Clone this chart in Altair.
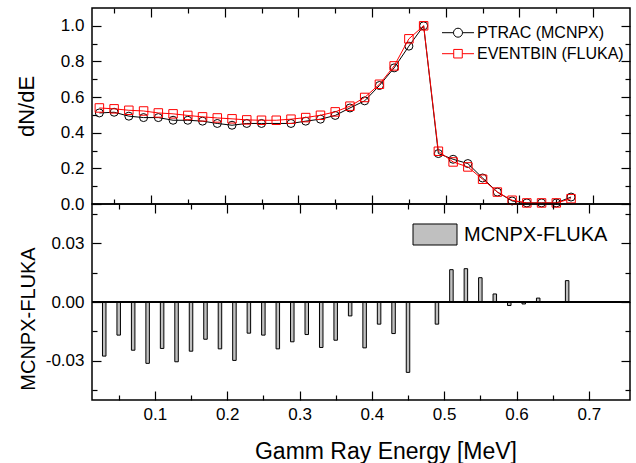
import altair as alt
import pandas as pd

# ---------------- data ----------------
energy = [0.03, 0.05, 0.07, 0.09, 0.11, 0.13, 0.15, 0.17, 0.19, 0.21, 0.23,
          0.25, 0.27, 0.29, 0.31, 0.33, 0.35, 0.37, 0.39, 0.41, 0.43, 0.45,
          0.47, 0.49, 0.51, 0.53, 0.55, 0.57, 0.59, 0.61, 0.63, 0.65, 0.67]
mcnpx = [0.511, 0.515, 0.493, 0.485, 0.485, 0.470, 0.470, 0.465, 0.452, 0.442,
         0.452, 0.452, None, 0.452, 0.465, 0.476, 0.497, 0.539, 0.579, 0.665,
         0.764, 0.886, 1.000, 0.283, 0.251, 0.227, 0.146, 0.067, 0.017, 0.006,
         0.006, 0.006, 0.039]
fluka = [0.539, 0.534, 0.526, 0.522, 0.511, 0.506, 0.497, 0.489, 0.483, 0.478,
         0.472, 0.470, 0.470, 0.476, 0.485, 0.498, 0.517, 0.549, 0.598, 0.672,
         0.775, 0.927, 1.000, 0.296, 0.236, 0.208, 0.139, 0.067, 0.021, 0.006,
         0.006, 0.006, 0.030]
diff = [-0.0276, -0.0169, -0.0246, -0.0313, -0.0237, -0.0305, -0.0251, -0.0190,
        -0.0239, -0.0298, -0.0159, -0.0169, -0.0239, -0.0203, -0.0166, -0.0232,
        -0.0195, -0.0071, -0.0234, -0.0113, -0.0161, -0.0359, 0.0, -0.0113,
        0.0165, 0.0170, 0.0124, 0.0041, -0.0018, -0.0010, 0.0020, 0.0, 0.0109]

series_names = ["PTRAC (MCNPX)", "EVENTBIN (FLUKA)"]
series_colors = ["#000000", "#ff0000"]
diff_name = ["MCNPX-FLUKA"]

x_major = [0.1, 0.2, 0.3, 0.4, 0.5, 0.6, 0.7]
x_minor = [0.05, 0.15, 0.25, 0.35, 0.45, 0.55, 0.65]
top_major = [0.0, 0.2, 0.4, 0.6, 0.8, 1.0]
top_minor = [0.1, 0.3, 0.5, 0.7, 0.9]
bot_major = [-0.03, 0.0, 0.03]
bot_minor = [-0.045, -0.015, 0.015, 0.045]

df = pd.DataFrame({"energy": energy, "mcnpx": mcnpx, "fluka": fluka,
                   "diff": diff, "label": diff_name * len(energy)})

# ---------------- layout / style ----------------
W, H = 538, 196
FONT = "Liberation Sans"
XDOM = [0.02, 0.75]
TOPDOM = [0.0, 1.1]
BOTDOM = [-0.05, 0.05]

xscale = alt.Scale(domain=XDOM, nice=False, zero=False)
top_scale = alt.Scale(domain=TOPDOM, nice=False, zero=False)
bot_scale = alt.Scale(domain=BOTDOM, nice=False, zero=False)


def tick_axis(orient, offset, values, size):
    return alt.Axis(orient=orient, offset=offset, values=values, tickSize=size,
                    ticks=True, labels=False, domain=False, grid=False,
                    title=None, tickColor="black", tickWidth=1.2)


def tick_layers(yfield, yscale, ymaj, ymin):
    specs = [("top", "right", x_major, ymaj, 9),
             ("top", "right", x_minor, ymin, 5),
             ("bottom", "left", x_major, ymaj, 9),
             ("bottom", "left", x_minor, ymin, 5)]
    out = []
    for xo, yo, xv, yv, s in specs:
        out.append(
            alt.Chart(df).mark_point(opacity=0).encode(
                x=alt.X("energy:Q", scale=xscale, axis=tick_axis(xo, -H, xv, s)),
                y=alt.Y(f"{yfield}:Q", scale=yscale, axis=tick_axis(yo, -W, yv, s)),
            )
        )
    return out


# ---------------- top panel ----------------
top_yaxis = alt.Axis(orient="left", values=top_major, format=".1f", ticks=False,
                     domain=False, grid=False, labelPadding=8, labelFontSize=17,
                     labelFont=FONT, labelColor="black", title="dN/dE",
                     titleFont=FONT, titleFontSize=22, titleFontWeight="normal",
                     titleColor="black", titleAngle=270, titleX=-59,
                     titleBaseline="alphabetic", titleAlign="center")

valid_m = "isValid(datum.mcnpx)"
line_m = alt.Chart(df).transform_filter(valid_m).mark_line(
    color="black", strokeWidth=1).encode(
    x=alt.X("energy:Q", scale=xscale, axis=None),
    y=alt.Y("mcnpx:Q", scale=top_scale, axis=top_yaxis))
pts_m = alt.Chart(df).transform_filter(valid_m).mark_point(
    shape="circle", filled=False, size=64, color="black", strokeWidth=1,
    opacity=1).encode(
    x=alt.X("energy:Q", scale=xscale, axis=None),
    y=alt.Y("mcnpx:Q", scale=top_scale, axis=None))
line_f = alt.Chart(df).mark_line(color="#ff0000", strokeWidth=1).encode(
    x=alt.X("energy:Q", scale=xscale, axis=None),
    y=alt.Y("fluka:Q", scale=top_scale, axis=None))
pts_f = alt.Chart(df).mark_point(
    shape="square", filled=False, size=72, color="#ff0000", strokeWidth=1,
    opacity=1).encode(
    x=alt.X("energy:Q", scale=xscale, axis=None),
    y=alt.Y("fluka:Q", scale=top_scale, axis=None))

circ = ("M0.474,0C0.474,0.262,0.262,0.474,0,0.474C-0.262,0.474,-0.474,0.262,"
        "-0.474,0C-0.474,-0.262,-0.262,-0.474,0,-0.474C0.262,-0.474,0.474,"
        "-0.262,0.474,0Z")
legend_paths = ["M-1.684,0H-0.474M0.474,0H1.684" + circ,
                "M-1.684,0H-0.45M0.45,0H1.684M-0.45,-0.45H0.45V0.45H-0.45Z"]

leg_top = alt.Legend(title=None, orient="none", legendX=356, legendY=14.7,
                     symbolSize=361, symbolStrokeWidth=1, labelFontSize=16,
                     labelFont=FONT, labelColor="black", labelOffset=9,
                     rowPadding=3, padding=0)
legend_layer = alt.Chart(df).transform_filter("false").mark_point(
    filled=False, strokeWidth=1, opacity=1).encode(
    color=alt.Color("series:N", scale=alt.Scale(domain=series_names,
                                                range=series_colors),
                    legend=leg_top),
    shape=alt.Shape("series:N", scale=alt.Scale(domain=series_names,
                                                range=legend_paths),
                    legend=leg_top))

top = alt.layer(line_m, pts_m, line_f, pts_f, legend_layer,
                *tick_layers("mcnpx", top_scale, top_major, top_minor)
                ).resolve_axis(x="independent", y="independent"
                ).properties(width=W, height=H)

# ---------------- bottom panel ----------------
bot_xaxis = alt.Axis(orient="bottom", values=x_major, format=".1f", ticks=False,
                     domain=False, grid=False, labelPadding=6, labelFontSize=17,
                     labelFont=FONT, labelColor="black",
                     title="Gamm Ray Energy [MeV]", titleFont=FONT,
                     titleFontSize=23, titleFontWeight="normal",
                     titleColor="black", titleX=293.5, titleY=58,
                     titleBaseline="alphabetic", titleAlign="center")
bot_yaxis = alt.Axis(orient="left", values=bot_major, ticks=False, domain=False,
                     grid=False, labelPadding=8, labelFontSize=17,
                     labelExpr="replace(format(datum.value, '.2f'), '\u2212', '-')",
                     labelFont=FONT, labelColor="black", title="MCNPX-FLUKA",
                     titleFont=FONT, titleFontSize=20, titleFontWeight="normal",
                     titleColor="black", titleAngle=270, titleX=-57.3,
                     titleY=114.5, titleBaseline="alphabetic",
                     titleAlign="center")

leg_bot = alt.Legend(title=None, orient="none", legendX=331.5, legendY=19,
                     symbolType="M-2,-0.955H2V0.955H-2Z", symbolSize=484,
                     symbolStrokeColor="black", symbolStrokeWidth=1,
                     labelFontSize=20, labelFont=FONT, labelColor="black",
                     labelOffset=17.5, padding=0)

bars = alt.Chart(df).mark_bar(size=3.5, stroke="black", strokeWidth=1).encode(
    x=alt.X("energy:Q", scale=xscale, axis=bot_xaxis),
    y=alt.Y("diff:Q", scale=bot_scale, axis=bot_yaxis),
    y2=alt.datum(0),
    fill=alt.Fill("label:N", scale=alt.Scale(domain=diff_name,
                                             range=["#c0c0c0"]),
                  legend=leg_bot))
zero = alt.Chart(df).mark_rule(color="black", strokeWidth=1.5).encode(
    y=alt.YDatum(0, axis=None))

bottom = alt.layer(bars, zero,
                   *tick_layers("diff", bot_scale, bot_major, bot_minor)
                   ).resolve_axis(x="independent", y="independent"
                   ).properties(width=W, height=H)

chart = alt.vconcat(top, bottom, spacing=0, bounds="flush").resolve_scale(
    color="independent", shape="independent", fill="independent"
).resolve_legend(
    color="independent", shape="independent", fill="independent"
).properties(
    padding={"left": 14, "top": 6, "right": 2, "bottom": 0}
).configure(
    font=FONT, view=alt.ViewConfig(stroke="black", strokeWidth=1.5)
)

chart.save("out.html", embed_options={"renderer": "svg", "actions": False})
